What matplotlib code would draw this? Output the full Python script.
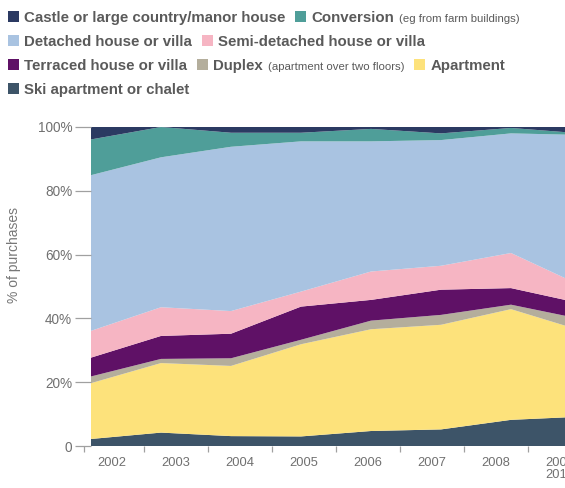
import matplotlib
matplotlib.use("Agg")
import matplotlib.pyplot as plt
from matplotlib.patches import Rectangle
import numpy as np

# Share of purchases by property type (% per year)
years = ["2002", "2003", "2004", "2005", "2006", "2007", "2008", "2009\n2010"]
ski = [2.2, 4.2, 3.1, 3.0, 4.7, 5.2, 8.2, 9.2]
apartment = [17.5, 21.8, 22.0, 28.9, 31.9, 32.8, 34.7, 27.0]
duplex = [2.1, 1.3, 2.4, 1.4, 2.7, 3.1, 1.4, 3.6]
terraced = [5.9, 7.2, 7.7, 10.4, 6.5, 7.9, 5.2, 4.9]
semi = [8.4, 9.0, 7.1, 4.7, 8.9, 7.5, 11.0, 5.6]
detached = [48.8, 47.0, 51.5, 47.1, 40.8, 39.4, 37.5, 47.2]
conversion = [11.2, 9.5, 4.4, 2.7, 3.9, 2.1, 1.7, 0.5]
castle = [3.9, 0.0, 1.8, 1.8, 0.6, 2.0, 0.3, 2.0]

series = [ski, apartment, duplex, terraced, semi, detached, conversion, castle]
colors = ["#3d5468", "#fde27b", "#b4ae9c", "#5f1166", "#f6b5c3",
          "#a9c3e1", "#4f9e99", "#2b3a62"]

y_ticks = [0, 20, 40, 60, 80, 100]
y_tick_labels = ["0", "20%", "40%", "60%", "80%", "100%"]

TEXT = "#5a5a5a"
TICK_TEXT = "#707070"
TICK_LINE = "#a0a0a0"
W, H = 565, 488

plt.rcParams["font.family"] = ["Liberation Sans", "DejaVu Sans"]

fig = plt.figure(figsize=(W / 100, H / 100), dpi=100)


def px_box(left, top, right, bottom):
    return [left / W, 1 - bottom / H, (right - left) / W, (bottom - top) / H]


# stacked areas; the plot runs past the right edge of the figure
ax = fig.add_axes(px_box(91, 127, 581, 446))
x = np.arange(len(years))
ax.stackplot(x, *series, colors=colors, linewidth=0)
ax.set_xlim(0, len(years) - 1)
ax.set_ylim(0, 100)
for s in ax.spines.values():
    s.set_visible(False)
ax.set_xticks([])
ax.set_yticks(y_ticks)
ax.set_yticklabels(y_tick_labels)
ax.tick_params(axis="y", length=11.5, width=0.9, color=TICK_LINE, pad=2,
               labelsize=9.8, labelcolor=TICK_TEXT)

fig.text(14 / W, 1 - 255 / H, "% of purchases", fontsize=10, color="#777777",
         rotation=90, ha="center", va="center")

# category axis with year bands
cat = fig.add_axes(px_box(80, 127, 592, 446))
cat.patch.set_visible(False)
for s in cat.spines.values():
    s.set_visible(False)
cat.set_xlim(0, len(years))
cat.set_ylim(0, 1)
cat.set_yticks([])
cat.set_xticks([0.0625] + list(range(1, len(years))))
cat.set_xticklabels([])
cat.tick_params(axis="x", length=4.2, width=0.9, color=TICK_LINE)
cat.set_xticks(np.arange(len(years)) + 0.5, minor=True)
cat.set_xticklabels(years, minor=True, fontsize=9.3, color=TICK_TEXT,
                    linespacing=1.0)
cat.tick_params(axis="x", which="minor", length=0, pad=8)

# legend laid out in rows across the top
legend_rows = [
    [("Castle or large country/manor house", "", colors[7]),
     ("Conversion", "(eg from farm buildings)", colors[6])],
    [("Detached house or villa", "", colors[5]),
     ("Semi-detached house or villa", "", colors[4])],
    [("Terraced house or villa", "", colors[3]),
     ("Duplex", "(apartment over two floors)", colors[2]),
     ("Apartment", "", colors[1])],
    [("Ski apartment or chalet", "", colors[0])],
]
row_baselines = [22, 46, 70, 94]

renderer = fig.canvas.get_renderer()
for baseline, row in zip(row_baselines, legend_rows):
    cx = 8
    for label, note, color in row:
        fig.patches.append(Rectangle((cx / W, 1 - baseline / H), 11 / W, 11 / H,
                                     transform=fig.transFigure, figure=fig,
                                     facecolor=color, edgecolor="none"))
        cx += 16
        t = fig.text(cx / W, 1 - baseline / H, label, fontsize=10.8,
                     fontweight="bold", color=TEXT, va="baseline", ha="left")
        cx = t.get_window_extent(renderer).x1
        if note:
            cx += 5
            n = fig.text(cx / W, 1 - baseline / H, note, fontsize=8.2,
                         color=TEXT, va="baseline", ha="left")
            cx = n.get_window_extent(renderer).x1
        cx += 10

fig.savefig("out.png", dpi=100)
